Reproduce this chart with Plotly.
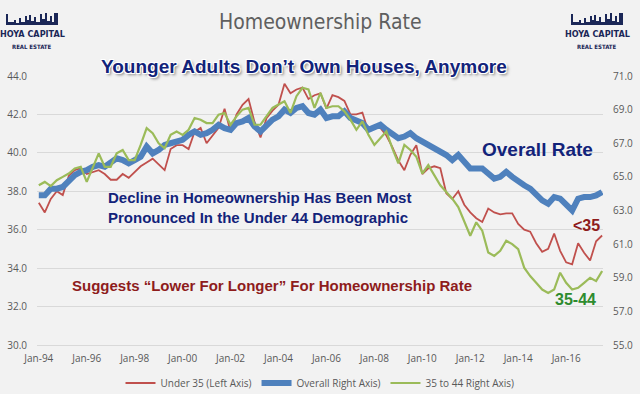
import plotly.graph_objects as go

# ---------------- data (quarterly, 1994Q1 .. 2017Q3) ----------------
quarters = [f"{y}Q{q}" for y in range(1994, 2018) for q in (1, 2, 3, 4)][:95]

under35 = [  # left axis
    37.4, 36.9, 37.6, 38.0, 37.8, 38.8, 39.1, 39.2, 38.9, 39.0,
    39.1, 38.9, 38.6, 38.6, 38.9, 38.7, 39.0, 39.3, 39.5, 39.7,
    39.4, 39.1, 40.2, 40.4, 40.4, 40.2, 41.1, 41.3, 40.5, 40.9,
    41.3, 42.3, 41.1, 42.0, 42.5, 42.8, 41.6, 40.8, 41.8, 42.2,
    42.5, 43.6, 43.1, 43.3, 43.4, 42.8, 43.0, 43.1, 42.3, 43.0,
    42.9, 42.7, 42.0, 42.0, 42.1, 41.1, 41.3, 41.3, 40.9, 40.3,
    39.6, 39.1, 39.9, 40.4, 38.9, 39.2, 39.3, 39.2, 37.9, 37.6,
    38.0, 37.3, 36.9, 36.6, 36.4, 37.1, 36.9, 36.8, 36.85, 36.85,
    36.3, 36.0, 35.9, 35.3, 34.85, 35.0, 35.8, 34.9, 34.3, 34.2,
    35.3, 34.8, 34.4, 35.4, 35.7,
]

overall = [  # right axis
    63.9, 63.9, 64.3, 64.3, 64.4, 64.8, 65.1, 65.3, 65.4, 65.6,
    65.7, 65.6, 65.8, 66.1, 66.0, 65.8, 66.0, 66.2, 66.8, 66.4,
    66.6, 66.9, 67.0, 67.1, 67.2, 67.5, 67.7, 67.5, 67.6, 67.8,
    68.1, 67.9, 67.8, 68.2, 68.3, 68.5, 68.0, 67.7, 68.1, 68.4,
    68.6, 69.0, 68.8, 69.1, 69.2, 68.8, 68.7, 69.0, 68.5, 68.6,
    68.6, 68.9, 68.5, 68.3, 68.2, 67.8, 68.0, 68.1, 67.8, 67.6,
    67.3, 67.4, 67.6, 67.3, 67.1, 66.9, 66.8, 66.5, 66.3, 66.0,
    66.3, 65.9, 65.5, 65.5, 65.5, 65.2, 64.9, 65.0, 65.3, 65.0,
    64.7, 64.5, 64.3, 63.9, 63.6, 63.4, 63.8, 63.7, 63.3, 63.0,
    63.7, 63.8, 63.8, 63.9, 64.1,
]

age35_44 = [  # right axis
    64.5, 64.7, 64.45, 64.8, 65.0, 65.2, 65.5, 65.6, 64.7, 65.6,
    66.4, 65.6, 65.6, 66.4, 66.6, 66.0, 66.0, 66.9, 67.9, 67.6,
    67.0, 66.7, 67.5, 67.7, 67.5, 67.8, 68.5, 68.4, 68.2, 68.2,
    68.7, 68.8, 68.1, 68.6, 69.0, 69.1, 68.1, 68.1, 68.6, 69.1,
    69.3, 69.5, 68.8, 69.8, 70.3, 70.2, 69.1, 70.0, 69.1, 69.2,
    69.2, 68.9, 68.4, 67.8, 68.3, 67.5, 66.9, 67.3, 67.7, 66.7,
    65.8, 66.9, 66.6, 66.2, 65.2, 65.7, 65.1, 64.5, 64.1, 63.7,
    63.2, 62.3, 61.5, 62.3, 61.8, 60.5, 60.3, 60.6, 61.2, 61.0,
    60.7, 59.6, 59.1, 58.7, 58.3, 58.1, 58.3, 59.3, 58.7, 58.3,
    58.4, 58.7, 59.0, 58.8, 59.4,
]

tick_quarters = [f"{y}Q1" for y in range(1994, 2017, 2)]
tick_labels = ["Jan-94", "Jan-96", "Jan-98", "Jan-00", "Jan-02", "Jan-04",
               "Jan-06", "Jan-08", "Jan-10", "Jan-12", "Jan-14", "Jan-16"]

# ---------------- geometry helpers ----------------
W, H = 640, 394
ML, MR, MT, MB = 37, 37, 76, 49
PW, PH = W - ML - MR, H - MT - MB


def px(x):
    return (x - ML) / PW


def py(y):
    return (H - MB - y) / PH


BG = "#f2f2f2"
RED = "#c0504d"
BLUE = "#4f81bd"
GREEN = "#9bbb59"
NAVY = "#12237a"
DARKRED = "#8e1c1c"
DKGREEN = "#2e8b2e"
GRAY = "#595959"
TICKFONT = dict(family="Open Sans, Arial, sans-serif", size=10, color=GRAY)

fig = go.Figure()
fig.add_trace(go.Scatter(x=quarters, y=under35, name="Under 35 (Left Axis)",
                         mode="lines", line=dict(color=RED, width=1.8)))
fig.add_trace(go.Scatter(x=quarters, y=overall, name="Overall Right Axis)",
                         mode="lines", yaxis="y2",
                         line=dict(color=BLUE, width=6)))
fig.add_trace(go.Scatter(x=quarters, y=age35_44, name="35 to 44 Right Axis)",
                         mode="lines", yaxis="y2",
                         line=dict(color=GREEN, width=2.2)))

fig.update_layout(
    width=W, height=H,
    margin=dict(l=ML, r=MR, t=MT, b=MB, autoexpand=False),
    paper_bgcolor=BG, plot_bgcolor=BG,
    showlegend=True,
    legend=dict(orientation="h", x=0.5, xanchor="center",
                yref="container", y=1 - 383 / H, yanchor="middle",
                font=dict(family="Open Sans, Arial, sans-serif", size=10, color=GRAY),
                bgcolor="rgba(0,0,0,0)", itemwidth=30, tracegroupgap=0),
    xaxis=dict(type="category", range=[-0.3, 94.15], tickmode="array",
               tickvals=tick_quarters, ticktext=tick_labels, showgrid=False,
               showline=True, linecolor="#d9d9d9", linewidth=1, ticks="",
               tickfont=TICKFONT, ticklabelstandoff=4, zeroline=False, automargin=False),
    yaxis=dict(range=[30, 44], dtick=2, tick0=30, tickformat=".1f", showgrid=True,
               gridcolor="#d9d9d9", gridwidth=1, zeroline=False, showline=False,
               tickfont=TICKFONT, ticks="", ticklabelstandoff=9, automargin=False),
    yaxis2=dict(range=[55, 71], dtick=2, tick0=55, tickformat=".1f", overlaying="y",
                side="right", showgrid=False, zeroline=False, showline=False,
                tickfont=TICKFONT, ticks="", ticklabelstandoff=9, automargin=False),
)

ann = []
# title
ann.append(dict(text="Homeownership Rate", x=px(320), y=py(22), xref="paper", yref="paper",
                showarrow=False, xanchor="center", yanchor="middle",
                font=dict(family="DejaVu Sans Condensed, Liberation Sans Narrow, Roboto, sans-serif",
                          size=21, color="#5f5f5f")))
# subtitle with white halo
ann.append(dict(text="Younger Adults Don’t Own Houses, Anymore", x=px(304), y=py(66),
                xref="paper", yref="paper", showarrow=False, xanchor="center", yanchor="middle",
                font=dict(family="Liberation Sans, Arial, sans-serif", size=19, color=NAVY,
                          weight="bold",
                          shadow="-1px -1px 0 #fff, 1px -1px 0 #fff, -1px 1px 0 #fff, 1px 1px 0 #fff, 2px 2px 3px #777")))
ann.append(dict(text="Overall Rate", x=px(537), y=py(149), xref="paper", yref="paper",
                showarrow=False, xanchor="center", yanchor="middle",
                font=dict(family="Liberation Sans, Arial, sans-serif", size=19, color=NAVY, weight="bold")))
ann.append(dict(text="Decline in Homeownership Has Been Most<br>Pronounced In the Under 44 Demographic",
                x=px(106), y=py(207), xref="paper", yref="paper", showarrow=False,
                xanchor="left", yanchor="middle", align="left",
                font=dict(family="Liberation Sans, Arial, sans-serif", size=15, color=NAVY, weight="bold")))
ann.append(dict(text="Suggests “Lower For Longer” For Homeownership Rate", x=px(70), y=py(285),
                xref="paper", yref="paper", showarrow=False, xanchor="left", yanchor="middle",
                font=dict(family="Liberation Sans, Arial, sans-serif", size=15, color=DARKRED, weight="bold")))
ann.append(dict(text="&lt;35", x=px(602), y=py(225), xref="paper", yref="paper", showarrow=False,
                xanchor="right", yanchor="middle",
                font=dict(family="Liberation Sans, Arial, sans-serif", size=16, color=DARKRED, weight="bold")))
ann.append(dict(text="35-44", x=px(598), y=py(299), xref="paper", yref="paper", showarrow=False,
                xanchor="right", yanchor="middle",
                font=dict(family="Liberation Sans, Arial, sans-serif", size=16, color=DKGREEN, weight="bold")))

# logos (text + skyline)
LOGO = "#1b2757"
shapes = []
for cx in (32, 597):
    ann.append(dict(text="HOYA CAPITAL", x=px(cx), y=py(34), xref="paper", yref="paper",
                    showarrow=False, xanchor="center", yanchor="middle",
                    font=dict(family="DejaVu Sans Condensed, Liberation Sans Narrow, sans-serif", size=9,
                              color=LOGO, weight="bold")))
    ann.append(dict(text="REAL ESTATE", x=px(cx), y=py(46), xref="paper", yref="paper",
                    showarrow=False, xanchor="center", yanchor="middle",
                    font=dict(family="DejaVu Sans Condensed, Liberation Sans Narrow, sans-serif", size=6,
                              color=LOGO, weight="bold")))
    # skyline silhouette
    bars = [(-26, -24, 11), (-24, -18, 3), (-18, -16, 5), (-16, -13, 2), (-13, -11, 7),
            (-11, -7, 3), (-7, -5, 9), (-5, -3, 5), (-3, -1, 10), (-1, 2, 4), (2, 4, 8),
            (4, 8, 3), (8, 10, 11), (10, 13, 6), (13, 15, 12), (15, 18, 4), (18, 20, 9),
            (20, 22, 3), (22, 26, 12)]
    base = 25
    path = f"M {px(cx-26)},{py(base)}"
    for a, b, h in bars:
        path += f" L {px(cx+a)},{py(base-h)} L {px(cx+b)},{py(base-h)}"
    path += f" L {px(cx+26)},{py(base)} Z"
    shapes.append(dict(type="path", path=path, xref="paper", yref="paper",
                       fillcolor=LOGO, line=dict(width=0)))

fig.update_layout(annotations=ann, shapes=shapes)
fig.write_html("out.html", config={"displayModeBar": False},
               post_script="document.body.style.margin='0';document.body.style.overflow='hidden';")
